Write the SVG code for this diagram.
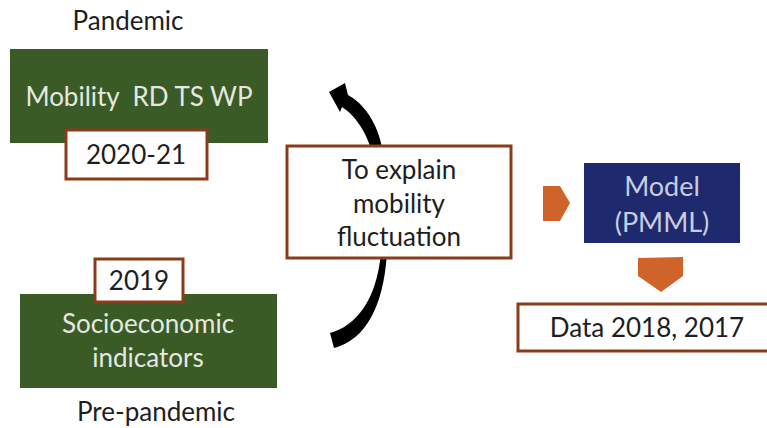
<svg xmlns="http://www.w3.org/2000/svg" width="767" height="428" viewBox="0 0 767 428">
  <style>
    text { font-family: Lato, "Liberation Sans", sans-serif; text-anchor: middle; }
    .dark { fill: #1e1e1e; font-size: 26px; }
    .light { fill: #e4e9e0; font-size: 26px; }
    .green { fill: #3a5a26; }
    .tag { fill: #ffffff; stroke: #8a3c1a; stroke-width: 3; }
    .pointer { fill: #d0632a; }
  </style>

  <!-- Pandemic mobility block -->
  <g id="pandemic">
    <text class="dark" x="128" y="30">Pandemic</text>
    <rect class="green" x="10" y="49" width="258" height="94"/>
    <text class="light" x="139" y="106" font-size="25.5" xml:space="preserve">Mobility  RD TS WP</text>
  </g>
  <g id="year-2020-21">
    <rect class="tag" x="66" y="130" width="141" height="49"/>
    <text class="dark" x="136" y="164">2020-21</text>
  </g>

  <!-- Pre-pandemic socioeconomic block -->
  <g id="prepandemic">
    <rect class="green" x="20" y="294" width="257" height="94"/>
    <text class="light" x="148" y="333">Socioeconomic</text>
    <text class="light" x="148" y="367">indicators</text>
    <text class="dark" x="156" y="421">Pre-pandemic</text>
  </g>
  <g id="year-2019">
    <rect class="tag" x="95" y="259" width="88" height="43"/>
    <text class="dark" x="139" y="290">2019</text>
  </g>

  <!-- Connectors -->
  <g id="connectors">
    <!-- curved arrow, upper part with head -->
    <path fill="#000000" d="M372 152 C 365 128, 353 114, 342 107 L 340 112 L 329 92 L 345 83 L 348 95 C 363 103, 378 122, 383 152 Z"/>
    <!-- curved arrow, lower tail -->
    <path fill="#000000" d="M330 333 C 356 326, 377 300, 381 252 L 387 252 C 384 305, 366 340, 334 348 Z"/>
    <!-- pointer into the model -->
    <path class="pointer" d="M543 186 L 560 186 L 570 203 L 560 221 L 543 221 Z"/>
    <!-- pointer down to the data -->
    <path class="pointer" d="M638 258 L 683 257 L 683 276 L 661 292 L 638 276 Z"/>
  </g>

  <!-- Purpose box -->
  <g id="purpose">
    <rect class="tag" x="287" y="146" width="224" height="112"/>
    <text class="dark" x="399" y="179">To explain</text>
    <text class="dark" x="399" y="213">mobility</text>
    <text class="dark" x="399" y="246">fluctuation</text>
  </g>

  <!-- Model box -->
  <g id="model">
    <rect x="584" y="163" width="156" height="80" fill="#1f2a6e"/>
    <text x="662" y="196" fill="#c9cde0" font-size="27">Model</text>
    <text x="662" y="232" fill="#c9cde0" font-size="27">(PMML)</text>
  </g>

  <!-- Data box -->
  <g id="data">
    <rect class="tag" x="518" y="304" width="260" height="47"/>
    <text class="dark" x="647" y="337" font-size="25">Data 2018, 2017</text>
  </g>
</svg>
